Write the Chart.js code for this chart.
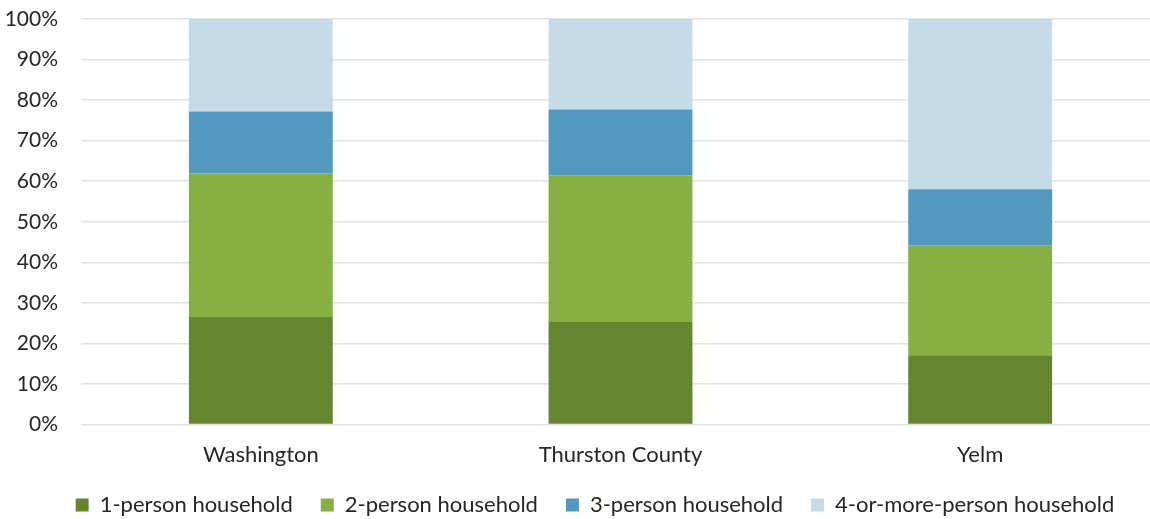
<!DOCTYPE html>
<html>
<head>
<meta charset="utf-8">
<script src="https://cdn.jsdelivr.net/npm/chart.js@4"></script>
<style>
  html, body { margin: 0; padding: 0; background: #fff; overflow: hidden; }
  #wrap { width: 1160px; height: 519px; position: relative; }
</style>
</head>
<body>
<div id="wrap"><canvas id="c"></canvas></div>
<script>
const categories = ["Washington", "Thurston County", "Yelm"];
const seriesNames = ["1-person household", "2-person household", "3-person household", "4-or-more-person household"];
const onePerson = [26.5, 25.3, 17.1];
const twoPerson = [35.4, 36.2, 27.1];
const threePerson = [15.3, 16.2, 13.8];
const fourPlus = [22.8, 22.3, 42.0];
const yTicks = [0, 10, 20, 30, 40, 50, 60, 70, 80, 90, 100];
const colors = ["#658530", "#86B042", "#5398BE", "#C5DBE8"];

const seriesValues = [onePerson, twoPerson, threePerson, fourPlus];
const FONT = "Lato, 'Open Sans', sans-serif";

// Tighten the space above the legend row (legend padding is also used as horizontal item spacing)
const LEGEND_TRIM = 19;
const LEGEND_SHIFT_X = 15;
const legendTrim = {
  id: "legendTrim",
  beforeLayout(chart) {
    const lg = chart.legend;
    if (lg && !lg._trimmed) {
      const origFit = lg.fit.bind(lg);
      lg.fit = function () { origFit(); this.height -= LEGEND_TRIM; };
      const origDraw = lg.draw.bind(lg);
      lg.draw = function () {
        const t = this.top, l = this.left, r = this.right;
        this.top = t - LEGEND_TRIM;
        this.left = l + LEGEND_SHIFT_X;
        this.right = r + LEGEND_SHIFT_X;
        origDraw();
        this.top = t; this.left = l; this.right = r;
      };
      lg._trimmed = true;
    }
  }
};

new Chart(document.getElementById("c"), {
  type: "bar",
  data: {
    labels: categories,
    datasets: seriesNames.map((name, i) => ({
      label: name,
      data: seriesValues[i],
      backgroundColor: colors[i],
      borderWidth: 0,
      barPercentage: 0.4,
      categoryPercentage: 1.0
    }))
  },
  plugins: [legendTrim],
  options: {
    responsive: true,
    maintainAspectRatio: false,
    animation: false,
    layout: { padding: { top: 19, left: 0, right: 0, bottom: -7 } },
    plugins: {
      tooltip: { enabled: false },
      legend: {
        position: "bottom",
        align: "center",
        labels: {
          boxWidth: 13,
          boxHeight: 13,
          padding: 28,
          color: "#262626",
          font: { family: FONT, size: 22 }
        }
      }
    },
    scales: {
      x: {
        stacked: true,
        grid: { display: false, drawTicks: false },
        border: { display: false },
        ticks: { color: "#262626", font: { family: FONT, size: 22 }, padding: 17 }
      },
      y: {
        stacked: true,
        min: 0,
        max: 100,
        afterFit: (s) => { s.width = 81; },
        afterBuildTicks: (s) => { s.ticks = yTicks.map(v => ({ value: v })); },
        grid: { color: "#e2e2e2", lineWidth: 1.5, drawTicks: true, tickLength: 23, tickColor: "rgba(0,0,0,0)" },
        border: { display: false },
        ticks: {
          color: "#262626",
          padding: 0,
          font: { family: FONT, size: 21 },
          callback: (v) => v + "%"
        }
      }
    }
  }
});
</script>
</body>
</html>
